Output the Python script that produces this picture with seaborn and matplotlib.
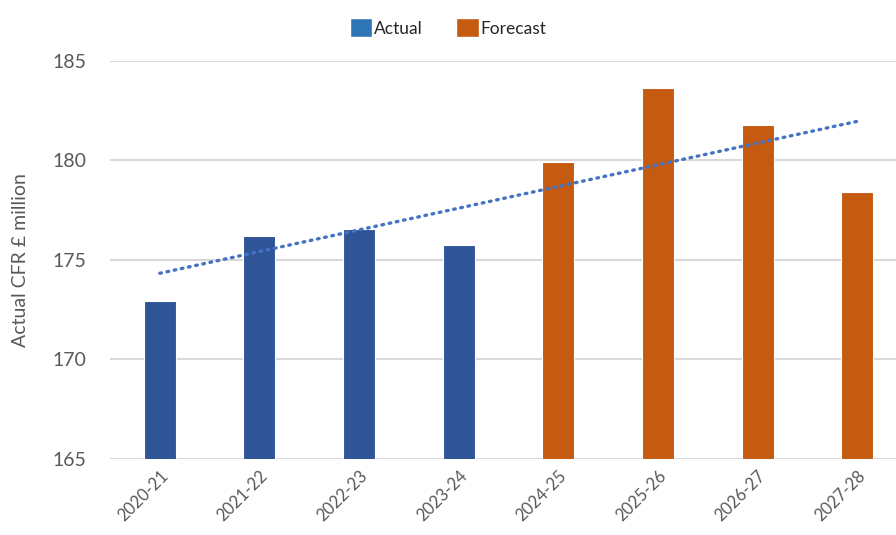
import numpy as np
import pandas as pd
import seaborn as sns
from matplotlib import pyplot as plt
from matplotlib.patches import Patch

years = ['2020-21', '2021-22', '2022-23', '2023-24', '2024-25', '2025-26', '2026-27', '2027-28']
cfr = [172.95, 176.2, 176.55, 175.75, 179.9, 183.65, 181.8, 178.4]
kind = ['Actual'] * 4 + ['Forecast'] * 4
colors = {'Actual': '#2F5597', 'Forecast': '#C55A11'}

df = pd.DataFrame({'year': years, 'cfr': cfr, 'kind': kind})

sns.set_style('white')
plt.rcParams['font.family'] = ['Lato', 'DejaVu Sans']

fig = plt.figure(figsize=(8.96, 5.35), dpi=100)
ax = fig.add_axes([110 / 896, 76 / 535, 797 / 896, 398 / 535])

sns.barplot(data=df, x='year', y='cfr', hue='kind', palette=colors, dodge=False,
            width=0.32, saturation=1, edgecolor='white', linewidth=0.8, ax=ax,
            legend=False, zorder=3)

# linear trend over all years
xs = np.arange(len(years))
k, b = np.polyfit(xs, cfr, 1)
ax.plot(xs, k * xs + b, color='#4472C4', lw=2.4, linestyle=(0, (0.5, 1.7)),
        dash_capstyle='round', zorder=4)

ax.set_ylim(165, 185)
ax.set_yticks([165, 170, 175, 180, 185])
ax.set_xlim(-0.5, 7.5)
ax.grid(axis='y', color='#D9D9D9', lw=1.5, zorder=0)
ax.set_axisbelow(True)
for s in ax.spines.values():
    s.set_visible(False)
ax.tick_params(axis='both', length=0, colors='#595959')
ax.tick_params(axis='y', labelsize=14, pad=17)
ax.tick_params(axis='x', labelsize=12, pad=6)
plt.setp(ax.get_xticklabels(), rotation=45, ha='right', rotation_mode='anchor')
ax.set_xlabel('')
ax.set_ylabel('Actual CFR £ million', fontsize=14, color='#595959', labelpad=17)

handles = [Patch(facecolor='#2E75B6', label='Actual'), Patch(facecolor='#C55A11', label='Forecast')]
fig.legend(handles=handles, loc='upper center', bbox_to_anchor=(0.5, 0.995), ncol=2,
           frameon=False, fontsize=12.5, handlelength=1.3, handleheight=1.3,
           handletextpad=0.1, columnspacing=1.9)

fig.savefig('out.png', dpi=100)
